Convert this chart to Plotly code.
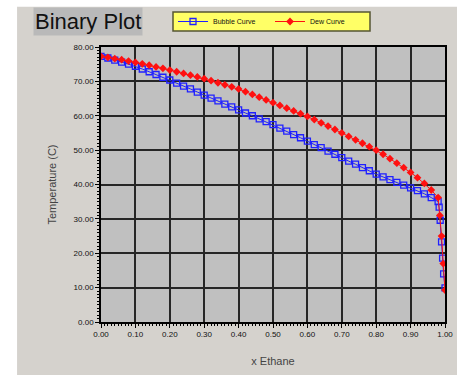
import plotly.graph_objects as go

x_bubble = [0.00, 0.02, 0.04, 0.06, 0.08, 0.10, 0.12, 0.14, 0.16, 0.18,
            0.20, 0.22, 0.24, 0.26, 0.28, 0.30, 0.32, 0.34, 0.36, 0.38,
            0.40, 0.42, 0.44, 0.46, 0.48, 0.50, 0.52, 0.54, 0.56, 0.58,
            0.60, 0.62, 0.64, 0.66, 0.68, 0.70, 0.72, 0.74, 0.76, 0.78,
            0.80, 0.82, 0.84, 0.86, 0.88, 0.90, 0.92, 0.94, 0.96, 0.98,
            0.983, 0.986, 0.99, 0.993, 0.996, 1.00]
t_bubble = [77.3, 76.8, 76.2, 75.6, 75.0, 74.4, 73.6, 72.8, 72.0, 71.2,
            70.4, 69.5, 68.6, 67.8, 66.9, 66.0, 65.1, 64.3, 63.4, 62.6,
            61.7, 60.8, 60.0, 59.1, 58.3, 57.4, 56.4, 55.5, 54.5, 53.6,
            52.6, 51.6, 50.7, 49.7, 48.8, 47.8, 46.8, 45.9, 44.9, 44.0,
            43.0, 42.2, 41.4, 40.6, 39.8, 39.0, 38.2, 37.3, 36.2, 35.0,
            33.4, 29.6, 23.3, 18.6, 14.0, 9.9]

x_dew = [0.00, 0.02, 0.04, 0.06, 0.08, 0.10, 0.12, 0.14, 0.16, 0.18,
         0.20, 0.22, 0.24, 0.26, 0.28, 0.30, 0.32, 0.34, 0.36, 0.38,
         0.40, 0.42, 0.44, 0.46, 0.48, 0.50, 0.52, 0.54, 0.56, 0.58,
         0.60, 0.62, 0.64, 0.66, 0.68, 0.70, 0.72, 0.74, 0.76, 0.78,
         0.80, 0.82, 0.84, 0.86, 0.88, 0.90, 0.92, 0.94, 0.96, 0.98,
         0.985, 0.99, 0.995, 1.00]
t_dew = [77.3, 77.0, 76.6, 76.3, 75.9, 75.5, 75.1, 74.7, 74.2, 73.8,
         73.3, 72.8, 72.3, 71.8, 71.3, 70.8, 70.2, 69.6, 69.0, 68.4,
         67.8, 67.0, 66.2, 65.4, 64.6, 63.8, 63.0, 62.2, 61.4, 60.6,
         59.8, 58.9, 57.9, 57.0, 56.0, 55.0, 54.0, 53.0, 52.0, 51.0,
         50.0, 48.8, 47.5, 46.2, 44.9, 43.5, 42.0, 40.3, 38.4, 36.2,
         31.0, 25.0, 17.0, 9.3]

x_ticks = [0.0, 0.1, 0.2, 0.3, 0.4, 0.5, 0.6, 0.7, 0.8, 0.9, 1.0]
y_ticks = [0, 10, 20, 30, 40, 50, 60, 70, 80]

fig = go.Figure()
fig.add_trace(go.Scatter(
    x=x_bubble, y=t_bubble, mode="lines+markers", name="Bubble Curve",
    line=dict(color="#2020ff", width=1),
    marker=dict(symbol="square-open", size=6, color="#2020ff", line=dict(width=1.3, color="#2020ff")),
))
fig.add_trace(go.Scatter(
    x=x_dew, y=t_dew, mode="lines+markers", name="Dew Curve",
    line=dict(color="#ff1010", width=1),
    marker=dict(symbol="diamond", size=6, color="#ff1010"),
))

axis_common = dict(
    showline=True, linecolor="#000", linewidth=1.5, mirror=True,
    showgrid=True, gridcolor="#262626", gridwidth=1.7,
    ticks="outside", ticklen=4, tickcolor="#000", tickwidth=1,
    zeroline=False,
    tickfont=dict(family="Liberation Sans", size=8, color="#111"),
)

fig.update_xaxes(
    range=[0, 1.0], tickvals=x_ticks, tickformat=".2f",
    minor=dict(dtick=0.01, ticks="outside", ticklen=2, tickcolor="#000", showgrid=False),
    title=dict(text="x Ethane", font=dict(family="Liberation Sans", size=11, color="#444"), standoff=19),
    **axis_common,
)
fig.update_yaxes(
    range=[0, 80], tickvals=y_ticks, tickformat=".2f",
    minor=dict(dtick=1, ticks="outside", ticklen=2, tickcolor="#000", showgrid=False),
    title=dict(text="Temperature (C)", font=dict(family="Liberation Sans", size=11, color="#444"), standoff=15),
    **axis_common,
)

fig.add_shape(type="rect", xref="paper", yref="paper",
              x0=-0.30, x1=-0.244, y0=-0.2, y1=1.2,
              fillcolor="white", line=dict(width=0), layer="below")
fig.add_shape(type="rect", xref="paper", yref="paper",
              x0=-0.30, x1=1.1, y0=1.146, y1=1.2,
              fillcolor="white", line=dict(width=0), layer="below")
# legend frame
fig.add_shape(type="rect", xref="paper", yref="paper",
              x0=(173 - 101) / 344, x1=(370 - 101) / 344,
              y0=(322 - 31) / 275, y1=(322 - 12) / 275,
              fillcolor="#ffff66", line=dict(width=1.5, color="#555533"), layer="above")

fig.add_annotation(
    text="Binary Plot", xref="paper", yref="paper",
    x=(33 - 101) / 344, y=(322 - 21) / 275, xanchor="left", yanchor="middle",
    showarrow=False, bgcolor="#b9b9b9", borderpad=1,
    font=dict(family="Liberation Sans", size=22, color="#111"),
)

fig.update_layout(
    width=457, height=375,
    margin=dict(l=101, r=12, t=47, b=53, autoexpand=False),
    paper_bgcolor="#d5d2cd", plot_bgcolor="#c0c0c0",
    showlegend=True,
    legend=dict(
        orientation="h", x=(173 - 101) / 344, y=(322 - 21.5) / 275,
        xanchor="left", yanchor="middle",
        bgcolor="rgba(0,0,0,0)", borderwidth=0,
        font=dict(family="Liberation Sans", size=7, color="#111"),
        entrywidth=52, tracegroupgap=0, itemwidth=30,
    ),
)

fig.write_html("out.html", config={"displayModeBar": False},
               post_script="document.body.style.margin='0';")
